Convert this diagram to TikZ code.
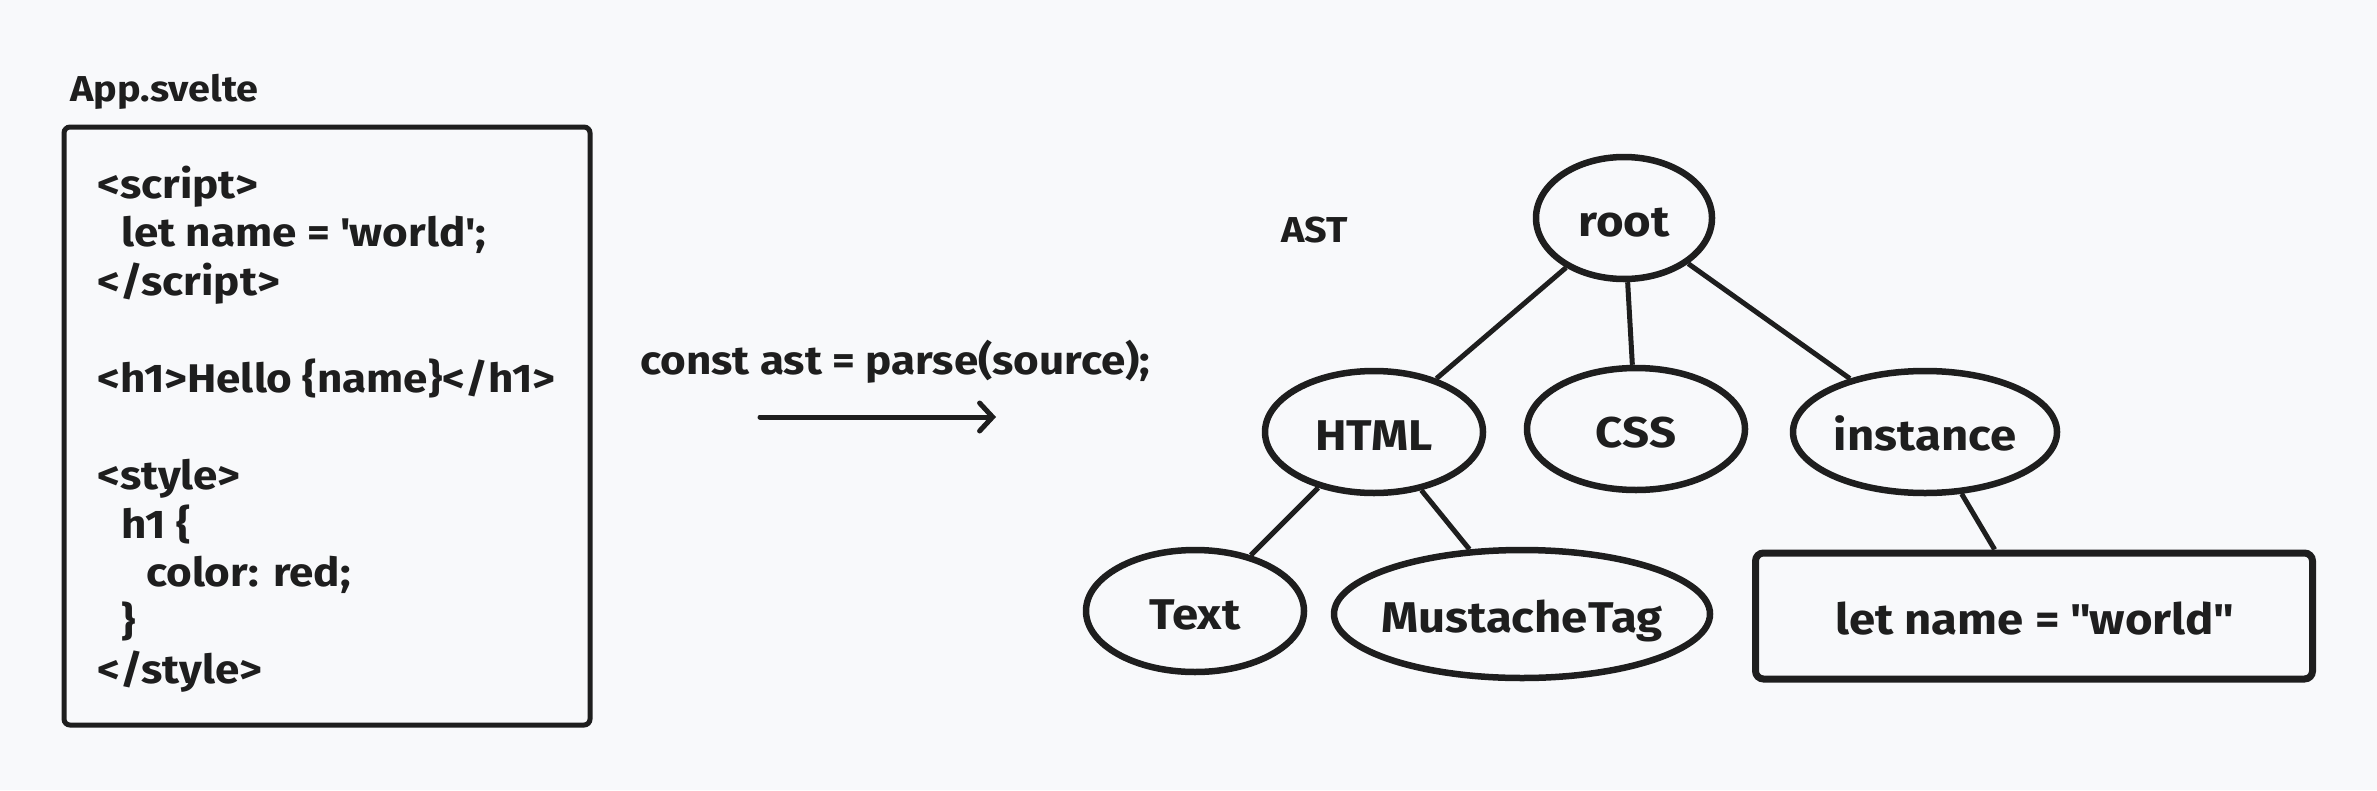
\documentclass[tikz,border=0pt]{standalone}
\usepackage{fontspec}
\setmainfont{Fira Sans}[FakeStretch=1.1]
\usetikzlibrary{shapes.geometric,arrows.meta}
\definecolor{bg}{RGB}{248,249,251}
\definecolor{ink}{RGB}{30,30,30}
\begin{document}
\begin{tikzpicture}[x=1pt,y=-1pt,
  codeline/.style={anchor=west,inner sep=0pt,font=\fontsize{40}{44}\selectfont\bfseries,text=ink,text height=29pt,text depth=3pt},
  titletext/.style={codeline,font=\fontsize{36}{40}\selectfont\bfseries},
  treenode/.style={ellipse,draw=ink,line width=6.5pt,inner sep=0pt,font=\fontsize{43}{46}\selectfont\bfseries,text=ink,text height=36pt,text depth=0pt},
  edge/.style={draw=ink,line width=5pt},
]
\fill[bg] (0,0) rectangle (2377,790);
\useasboundingbox (0,0) rectangle (2377,790);

% source file
\node[titletext] (title) at (70,88) {App.svelte};
\node[draw=ink,line width=5pt,rounded corners=6pt,minimum width=526pt,minimum height=598pt,inner sep=0pt] (code) at (327,426) {};
\node[codeline] (l1) at (97,185) {<script>};
\node[codeline] (l2) at (121,233) {let name = \textquotesingle world\textquotesingle;};
\node[codeline] (l3) at (97,282) {</script>};
\node[codeline] (l4) at (97,379) {<h1>Hello \{name\}</h1>};
\node[codeline] (l5) at (97,476) {<style>};
\node[codeline] (l6) at (121,525) {h1 \{};
\node[codeline] (l7) at (146,573) {color: red;};
\node[codeline] (l8) at (121,622) {\}};
\node[codeline] (l9) at (97,670) {</style>};

% parse call
\node[codeline] (call) at (640,361) {const ast = parse(source);};
\coordinate (a0) at (760,417);
\coordinate (a1) at (996,417);
\draw[draw=ink,line width=5pt,line cap=round,-{Straight Barb[length=13pt,width=28pt,line width=5pt,line cap=round]}] (a0) -- (a1);

% AST
\node[titletext] (ast) at (1281,229) {AST};
\node[treenode,minimum width=176pt,minimum height=122pt] (root) at (1624,218) {root};
\node[treenode,minimum width=218pt,minimum height=122pt] (html) at (1374,432) {HTML};
\node[treenode,minimum width=218pt,minimum height=122pt] (css) at (1636,429) {CSS};
\node[treenode,minimum width=264pt,minimum height=122pt] (inst) at (1925,432) {instance};
\node[treenode,minimum width=218pt,minimum height=122pt] (text) at (1195,611) {Text};
\node[treenode,minimum width=376pt,minimum height=128pt,inner xsep=-30pt] (must) at (1522,614) {MustacheTag};
\node[draw=ink,line width=7pt,rounded corners=8pt,minimum width=557pt,minimum height=126pt,inner sep=0pt,font=\fontsize{43}{46}\selectfont\bfseries,text=ink,text height=36pt,text depth=0pt] (val) at (2034,616) {let name = \textquotedbl world\textquotedbl};

\draw[edge] (root) -- (html);
\draw[edge] (root) -- (css);
\draw[edge] (root) -- (inst);
\draw[edge] (html) -- (text);
\draw[edge] (html) -- (must);
\draw[edge] (inst) -- (val);
\end{tikzpicture}
\end{document}
